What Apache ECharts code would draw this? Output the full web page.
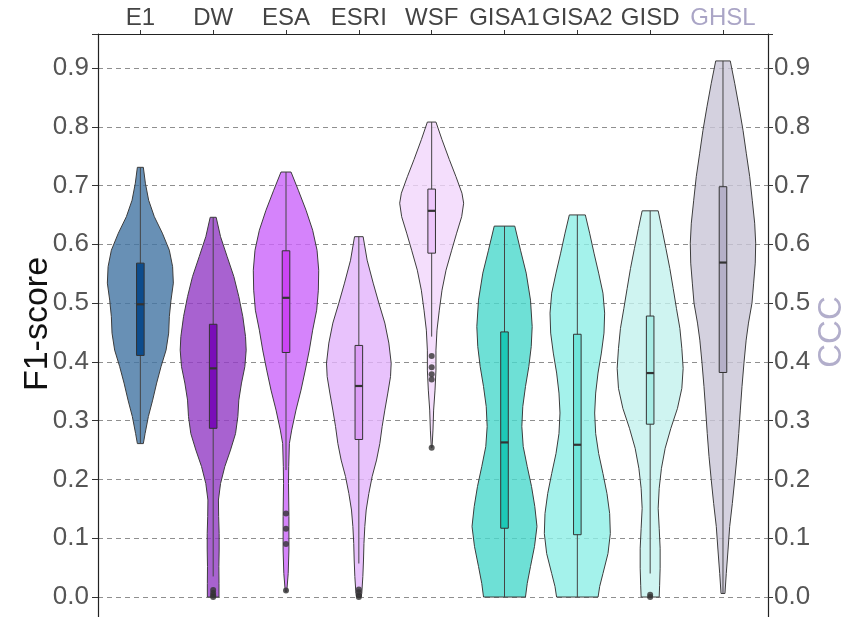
<!DOCTYPE html>
<html><head><meta charset="utf-8">
<script src="https://cdn.jsdelivr.net/npm/echarts@6/dist/echarts.min.js"></script>
<style>html,body{margin:0;padding:0;background:#fff;overflow:hidden}#chart{width:861px;height:660px}</style>
</head><body><div id="chart"></div>
<script>
const categories = ['E1','DW','ESA','ESRI','WSF','GISA1','GISA2','GISD','GHSL'];
const yTicks = [0.0,0.1,0.2,0.3,0.4,0.5,0.6,0.7,0.8,0.9];

// box statistics (F1-score)
const q1 =          [0.411, 0.287, 0.416, 0.268, 0.585, 0.117, 0.106, 0.294, 0.382];
const medians =     [0.498, 0.389, 0.509, 0.359, 0.657, 0.263, 0.259, 0.381, 0.569];
const q3 =          [0.568, 0.464, 0.589, 0.428, 0.694, 0.451, 0.447, 0.478, 0.698];
const whiskerLow =  [0.261, 0.035, 0.216, 0.057, 0.443, 0.000, 0.000, 0.040, 0.006];
const whiskerHigh = [0.731, 0.646, 0.723, 0.613, 0.808, 0.631, 0.650, 0.657, 0.912];

// outliers: [category index, value]
const outliers = [[1,0.012],[1,0.007],[1,0.003],[1,0.0],
  [2,0.142],[2,0.116],[2,0.090],[2,0.011],
  [3,0.013],[3,0.008],[3,0.003],[3,0.0],
  [4,0.410],[4,0.391],[4,0.379],[4,0.370],[4,0.254],
  [7,0.004],[7,0.0]];

// violin density profiles: [value, half-width in category units]
const e1Violin = [[0.731,0.041],[0.704,0.069],[0.675,0.114],[0.647,0.192],[0.619,0.302],[0.590,0.398],[0.562,0.443],[0.534,0.453],[0.505,0.421],[0.477,0.398],[0.449,0.389],[0.420,0.353],[0.392,0.284],[0.364,0.224],[0.335,0.169],[0.307,0.110],[0.278,0.065],[0.261,0.041]];
const dwViolin = [[0.646,0.041],[0.613,0.101],[0.579,0.192],[0.545,0.284],[0.511,0.352],[0.477,0.407],[0.443,0.444],[0.420,0.453],[0.392,0.435],[0.364,0.389],[0.335,0.352],[0.307,0.339],[0.278,0.307],[0.250,0.238],[0.222,0.160],[0.193,0.101],[0.165,0.072],[0.137,0.075],[0.108,0.082],[0.080,0.082],[0.052,0.078],[0.023,0.080],[0.0,0.080]];
const esaViolin = [[0.723,0.069],[0.692,0.169],[0.658,0.275],[0.624,0.366],[0.590,0.426],[0.556,0.449],[0.522,0.444],[0.488,0.421],[0.454,0.366],[0.420,0.320],[0.386,0.265],[0.352,0.206],[0.318,0.137],[0.284,0.078],[0.261,0.046],[0.222,0.037],[0.193,0.034],[0.137,0.040],[0.080,0.040],[0.040,0.030],[0.009,0.010]];
const esriViolin = [[0.613,0.059],[0.573,0.114],[0.534,0.197],[0.500,0.275],[0.466,0.357],[0.432,0.412],[0.398,0.444],[0.375,0.435],[0.347,0.398],[0.318,0.357],[0.290,0.320],[0.261,0.288],[0.233,0.243],[0.205,0.183],[0.176,0.137],[0.148,0.101],[0.120,0.082],[0.091,0.070],[0.063,0.064],[0.035,0.055],[0.006,0.040],[0.0,0.030]];
const wsfViolin = [[0.808,0.059],[0.778,0.142],[0.744,0.243],[0.715,0.334],[0.687,0.416],[0.670,0.439],[0.647,0.412],[0.619,0.343],[0.590,0.275],[0.556,0.197],[0.522,0.142],[0.488,0.105],[0.454,0.073],[0.420,0.059],[0.386,0.059],[0.352,0.046],[0.318,0.027],[0.284,0.018],[0.254,0.005]];
const gisa1Violin = [[0.631,0.141],[0.590,0.220],[0.551,0.298],[0.505,0.357],[0.460,0.380],[0.426,0.367],[0.392,0.334],[0.358,0.288],[0.324,0.251],[0.290,0.238],[0.256,0.257],[0.222,0.312],[0.188,0.371],[0.154,0.416],[0.120,0.446],[0.086,0.412],[0.052,0.357],[0.023,0.312],[0.0,0.288]];
const gisa2Violin = [[0.650,0.110],[0.619,0.169],[0.585,0.229],[0.551,0.293],[0.517,0.352],[0.483,0.375],[0.449,0.366],[0.415,0.330],[0.381,0.284],[0.347,0.252],[0.313,0.238],[0.278,0.252],[0.244,0.293],[0.210,0.352],[0.176,0.407],[0.142,0.444],[0.108,0.453],[0.074,0.421],[0.040,0.352],[0.018,0.307],[0.0,0.285]];
const gisdViolin = [[0.657,0.110],[0.627,0.161],[0.593,0.216],[0.559,0.270],[0.525,0.316],[0.491,0.361],[0.457,0.408],[0.423,0.435],[0.389,0.453],[0.355,0.435],[0.321,0.375],[0.287,0.284],[0.253,0.206],[0.219,0.155],[0.185,0.124],[0.151,0.110],[0.117,0.124],[0.083,0.137],[0.049,0.137],[0.020,0.130],[0.0,0.124]];
const ghslViolin = [[0.912,0.100],[0.874,0.161],[0.834,0.220],[0.794,0.275],[0.755,0.320],[0.715,0.367],[0.675,0.402],[0.636,0.435],[0.602,0.449],[0.568,0.443],[0.534,0.421],[0.500,0.398],[0.466,0.350],[0.437,0.318],[0.398,0.288],[0.358,0.261],[0.318,0.238],[0.278,0.216],[0.239,0.192],[0.199,0.161],[0.159,0.128],[0.120,0.092],[0.080,0.069],[0.040,0.045],[0.006,0.027]];

const violins = [e1Violin, dwViolin, esaViolin, esriViolin, wsfViolin, gisa1Violin, gisa2Violin, gisdViolin, ghslViolin];

// styles
const violinSeen = ['#6890b5','#a862d0','#d583fb','#e8c2fc','#f4defc','#6ee0d6','#a4f2eb','#cff4f1','#d4d1df'];
const boxColors =  ['#0d4c8c','#7a0db8','#cc45f5','#dc9df6','#ecc6fa','#1dc9b7','#6fe5da','#a8ece5','#b5b0c8'];
const ALPHA = 0.8;
function baseColor(hex){
  const n = parseInt(hex.slice(1),16);
  const c = [(n>>16)&255,(n>>8)&255,n&255].map(v=>Math.max(0,Math.min(255,Math.round((v-255*(1-ALPHA))/ALPHA))));
  return 'rgba('+c.join(',')+','+ALPHA+')';
}
const violinFill = violinSeen.map(baseColor);

const FONT = "'Liberation Sans', Arial, sans-serif";
const X_MIN = -0.5815, X_MAX = 8.618;
const Y_MIN = -0.1, Y_MAX = 0.9578;
const BOX_HALF = 0.052;

function renderItem(params, api){
  const i = api.value(0);
  const prof = violins[i];
  const left = prof.map(p => api.coord([i - p[1], p[0]]));
  const right = prof.slice().reverse().map(p => api.coord([i + p[1], p[0]]));
  const top = api.coord([i, api.value(5)]);
  const bot = api.coord([i, api.value(4)]);
  const b1 = api.coord([i - BOX_HALF, api.value(3)]);
  const b2 = api.coord([i + BOX_HALF, api.value(1)]);
  const m1 = api.coord([i - BOX_HALF, api.value(2)]);
  const m2 = api.coord([i + BOX_HALF, api.value(2)]);
  return {type:'group', children:[
    {type:'polygon', shape:{points:left.concat(right)}, style:{fill:violinFill[i], stroke:'#3c3c3c', lineWidth:1}},
    {type:'line', shape:{x1:top[0],y1:top[1],x2:bot[0],y2:bot[1]}, style:{stroke:'#444', lineWidth:1}},
    {type:'rect', shape:{x:b1[0], y:b1[1], width:b2[0]-b1[0], height:b2[1]-b1[1]}, style:{fill:boxColors[i], stroke:'#333', lineWidth:1}},
    {type:'line', shape:{x1:m1[0],y1:m1[1],x2:m2[0],y2:m2[1]}, style:{stroke:'#333', lineWidth:2.2}}
  ]};
}

const chart = echarts.init(document.getElementById('chart'));
const yLabelFmt = v => (v < -0.05 || v > 0.95 ? '' : (Math.abs(v) < 1e-9 ? '0.0' : v.toFixed(1)));
chart.setOption({
  animation:false,
  grid:{left:98, top:34, width:670, height:621.8, show:false},
  xAxis:{type:'value', position:'top', min:X_MIN, max:X_MAX,
    axisLine:{show:true, onZero:false, lineStyle:{color:'#222', width:1.2}},
    axisTick:{show:true, customValues:categories.map((c,i)=>i), length:4, lineStyle:{color:'#333'}},
    axisLabel:{customValues:categories.map((c,i)=>i), formatter:v=>categories[Math.round(v)] || '',
      color:(v)=> Math.round(v)===8 ? '#aaa5c6' : '#444', fontSize:24, fontFamily:FONT, margin:4},
    splitLine:{show:false}},
  yAxis:[
    {type:'value', position:'left', min:Y_MIN, max:Y_MAX, interval:0.1,
      axisLine:{show:true, onZero:false, lineStyle:{color:'#222', width:1.2}},
      axisTick:{show:true, length:6, lineStyle:{color:'#333'}},
      axisLabel:{formatter:yLabelFmt, color:'#555', fontSize:26, fontFamily:FONT, margin:9},
      splitLine:{show:true, lineStyle:{type:[5,4], color:'#8f8f8f', width:1.2}}},
    {type:'value', position:'right', min:Y_MIN, max:Y_MAX, interval:0.1,
      axisLine:{show:true, onZero:false, lineStyle:{color:'#222', width:1.2}},
      axisTick:{show:true, length:5, lineStyle:{color:'#333'}},
      axisLabel:{formatter:yLabelFmt, color:'#555', fontSize:26, fontFamily:FONT, margin:6},
      splitLine:{show:false}}
  ],
  graphic:[
    {type:'text', x:38, y:324, rotation:Math.PI/2, style:{text:'F1-score', font:'34px '+FONT, fill:'#111', textAlign:'center', textVerticalAlign:'middle'}},
    {type:'text', x:832, y:332, rotation:Math.PI/2, style:{text:'CCC', font:'33px '+FONT, fill:'#b2aecb', textAlign:'center', textVerticalAlign:'middle'}}
  ],
  series:[
    {type:'custom', renderItem:renderItem, xAxisIndex:0, yAxisIndex:0, silent:true, clip:false,
      encode:{x:0, y:[1,2,3,4,5]},
      data:categories.map((c,i)=>[i, q1[i], medians[i], q3[i], whiskerLow[i], whiskerHigh[i]])},
    {type:'scatter', xAxisIndex:0, yAxisIndex:0, silent:true, symbolSize:6, z:5,
      itemStyle:{color:'#333'}, data:outliers}
  ]
});
</script></body></html>
